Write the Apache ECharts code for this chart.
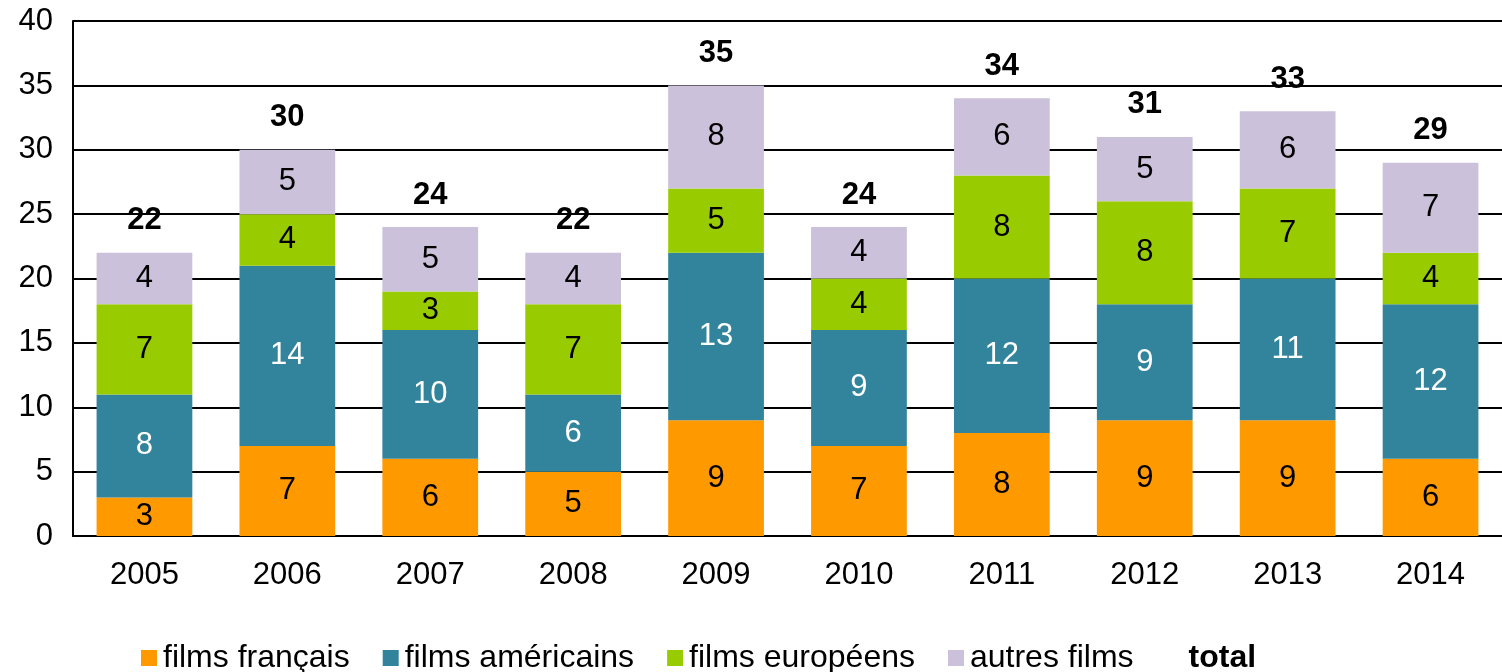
<!DOCTYPE html>
<html><head><meta charset="utf-8">
<script src="https://cdn.jsdelivr.net/npm/echarts@6/dist/echarts.min.js"></script>
<style>html,body{margin:0;padding:0;background:#fff}#c{width:1502px;height:672px}</style>
</head><body><div id="c"></div>
<script>
const years = ['2005','2006','2007','2008','2009','2010','2011','2012','2013','2014'];
const francais = [3,7,6,5,9,7,8,9,9,6];
const americains = [8,14,10,6,13,9,12,9,11,12];
const europeens = [7,4,3,7,5,4,8,8,7,4];
const autres = [4,5,5,4,8,4,6,5,6,7];
const totals = [22,30,24,22,35,24,34,31,33,29];
const yTicks = {min:0, max:40, interval:5};

const FONT = '"Liberation Sans", Arial, sans-serif';
const FS = 31;
function barSeries(name, data, color, textColor){
  return {name, type:'bar', stack:'s', data, barWidth:'67%',
    itemStyle:{color},
    label:{show:true, position:'inside', color:textColor, fontSize:FS, fontFamily:FONT},
    emphasis:{disabled:true}, z:3};
}
const chart = echarts.init(document.getElementById('c'));
chart.setOption({
  animation:false,
  textStyle:{fontFamily:FONT},
  grid:{left:73, right:-3, top:21, bottom:136},
  legend:{top:637, left:136, itemWidth:16, itemHeight:16, itemGap:33,
    textStyle:{fontSize:32, color:'#000', fontFamily:FONT, padding:[0,0,0,1]},
    data:[
      {name:'films français', icon:'rect'},
      {name:'films américains', icon:'rect'},
      {name:'films européens', icon:'rect'},
      {name:'autres films', icon:'rect'},
      {name:'total', icon:'rect', itemStyle:{color:'rgba(0,0,0,0)', opacity:0}, textStyle:{fontWeight:'bold', fontSize:32, color:'#000', padding:[0,0,0,1]}}
    ]},
  xAxis:{type:'category', data:years,
    axisLine:{lineStyle:{color:'#000', width:2}},
    axisTick:{inside:true, length:9, lineStyle:{color:'#000', width:2}},
    axisLabel:{fontSize:FS, color:'#000', margin:24}},
  yAxis:{type:'value', min:yTicks.min, max:yTicks.max, interval:yTicks.interval,
    axisLine:{show:true, lineStyle:{color:'#000', width:2}},
    axisTick:{show:false},
    splitLine:{lineStyle:{color:'#000', width:2}},
    axisLabel:{fontSize:FS, color:'#000', margin:20}},
  series:[
    barSeries('films français', francais, '#FF9900', '#000'),
    barSeries('films américains', americains, '#31849B', '#fff'),
    barSeries('films européens', europeens, '#99CC00', '#000'),
    barSeries('autres films', autres, '#CCC1DA', '#000'),
    {name:'total', type:'line', data:totals, symbol:'circle', symbolSize:1,
      itemStyle:{color:'rgba(0,0,0,0)'}, lineStyle:{width:0, opacity:0},
      label:{show:true, position:'top', distance:16, color:'#000', fontWeight:'bold', fontSize:FS, fontFamily:FONT},
      emphasis:{disabled:true}, z:5}
  ]
});
</script></body></html>
